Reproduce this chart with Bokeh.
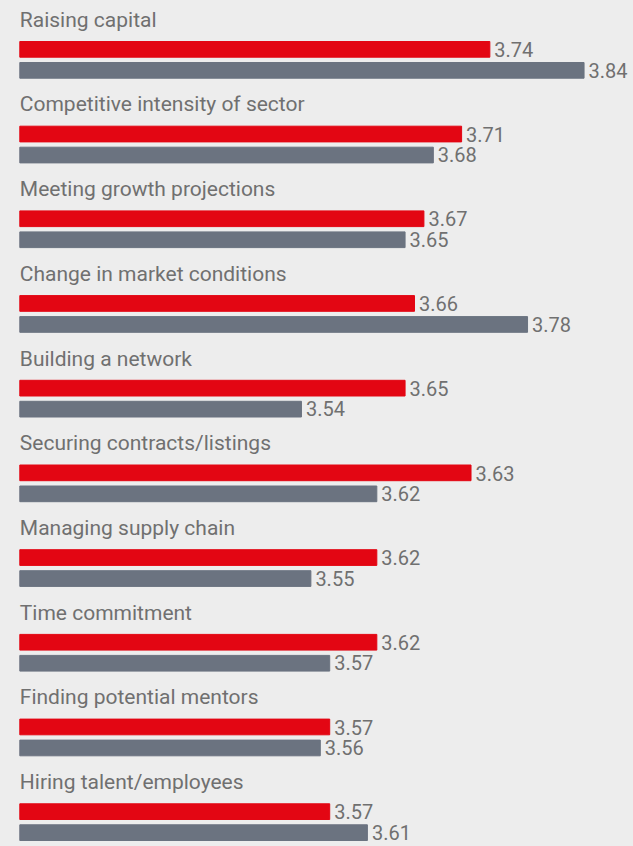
from bokeh.plotting import figure
from bokeh.models import ColumnDataSource, Range1d
from bokeh.core.properties import value
from bokeh.embed import file_html
from bokeh.resources import INLINE

# ---- data ----
categories = [
    "Raising capital",
    "Competitive intensity of sector",
    "Meeting growth projections",
    "Change in market conditions",
    "Building a network",
    "Securing contracts/listings",
    "Managing supply chain",
    "Time commitment",
    "Finding potential mentors",
    "Hiring talent/employees",
]
red_labels = ["3.74", "3.71", "3.67", "3.66", "3.65", "3.63", "3.62", "3.62", "3.57", "3.57"]
gray_labels = ["3.84", "3.68", "3.65", "3.78", "3.54", "3.62", "3.55", "3.57", "3.56", "3.61"]
# bar lengths as drawn in the picture (row 6 red bar is drawn longer than its label)
red_values = [3.74, 3.71, 3.67, 3.66, 3.65, 3.72, 3.62, 3.62, 3.57, 3.57]
gray_values = [3.84, 3.68, 3.65, 3.78, 3.54, 3.62, 3.55, 3.57, 3.56, 3.61]

# ---- style ----
BG = "#ededed"
RED = "#e30613"
GRAY = "#6b7380"
TEXT = "#707070"
FONT = "Roboto"
BASE = 3.241
ROW = 84.7  # pixels per row
TSHIFT = 7.5  # baseline correction for text rendering

n = len(categories)
rows = list(range(n))

def px(v):
    return v / ROW

src = ColumnDataSource(dict(
    row=rows,
    cat=categories,
    red=red_values,
    gray=gray_values,
    red_lab=red_labels,
    gray_lab=gray_labels,
    red_y=[r + px(7.85) for r in rows],
    gray_y=[r + px(28.85) for r in rows],
    lab_y=[r - px(14.3 + TSHIFT) for r in rows],
    red_ty=[r + px(15.5 - TSHIFT) for r in rows],
    gray_ty=[r + px(36.0 - TSHIFT) for r in rows],
))

p = figure(width=633, height=846, output_backend="svg", toolbar_location=None,
           x_range=Range1d(BASE - 19.3 / 942, BASE - 19.3 / 942 + 633 / 942),
           y_range=Range1d(px(846 - 41), px(-41)),
           min_border=0, min_border_left=0, min_border_right=0,
           min_border_top=0, min_border_bottom=0)
p.axis.visible = False
p.grid.visible = False
p.outline_line_color = None
p.background_fill_color = BG
p.border_fill_color = BG

p.hbar(y="red_y", left=BASE, right="red", height=px(15.7), color=RED, source=src)
p.hbar(y="gray_y", left=BASE, right="gray", height=px(15.7), color=GRAY, source=src)

p.text(x=BASE, y="lab_y", text="cat", source=src, text_font=value(FONT),
       text_font_size="21px", text_color=TEXT, text_baseline="alphabetic",
       text_align="left", x_offset=0)
p.text(x="red", y="red_ty", text="red_lab", source=src, text_font=value(FONT),
       text_font_size="20px", text_color=TEXT, text_baseline="alphabetic",
       text_align="left", x_offset=4.5)
p.text(x="gray", y="gray_ty", text="gray_lab", source=src, text_font=value(FONT),
       text_font_size="20px", text_color=TEXT, text_baseline="alphabetic",
       text_align="left", x_offset=4.5)

html = file_html(p, INLINE)
html = html.replace("</head>", "<style>html,body{background:%s;}</style></head>" % BG, 1)
open("out.html", "w").write(html)
